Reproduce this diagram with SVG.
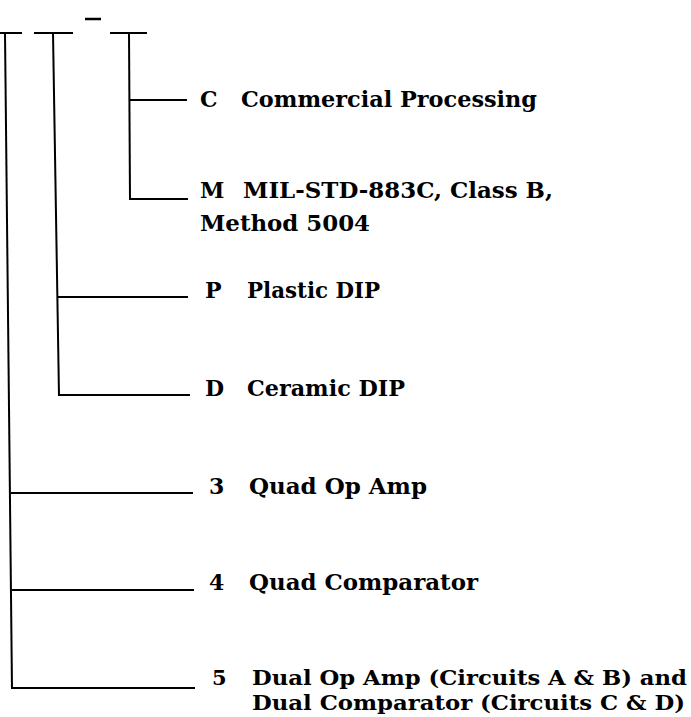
<svg xmlns="http://www.w3.org/2000/svg" width="691" height="717" viewBox="0 0 691 717">
<style>
  .ln { stroke: #000; stroke-width: 2; fill: none; stroke-linecap: butt; }
  .t { font-family: "DejaVu Serif", "Liberation Serif", serif; font-weight: bold; font-size: 22px; fill: #000; }
  .s { font-size: 21px; }
</style>
<rect width="691" height="717" fill="#fff"/>
<g id="connectors">
  <line class="ln" x1="0" y1="33" x2="22" y2="33"/>
  <line class="ln" x1="34" y1="33" x2="73" y2="33"/>
  <line class="ln" x1="85" y1="19" x2="101" y2="19" style="stroke-width:2.5"/>
  <line class="ln" x1="110" y1="33" x2="147" y2="33"/>
  <line class="ln" x1="5" y1="33" x2="12" y2="689"/>
  <line class="ln" x1="11" y1="493" x2="193" y2="493"/>
  <line class="ln" x1="12" y1="590" x2="194" y2="590"/>
  <line class="ln" x1="12" y1="688" x2="195" y2="688"/>
  <line class="ln" x1="53" y1="33" x2="59" y2="396"/>
  <line class="ln" x1="58" y1="297" x2="188" y2="297"/>
  <line class="ln" x1="59" y1="395" x2="190" y2="395"/>
  <line class="ln" x1="129" y1="33" x2="130" y2="200"/>
  <line class="ln" x1="129" y1="100" x2="187" y2="100"/>
  <line class="ln" x1="130" y1="199" x2="188" y2="199"/>
</g>
<g id="node-C">
  <text class="t" x="200" y="107">C</text>
  <text class="t" x="241" y="107" textLength="296" lengthAdjust="spacingAndGlyphs">Commercial Processing</text>
</g>
<g id="node-M">
  <text class="t" x="200" y="198">M</text>
  <text class="t" x="243" y="198" textLength="310" lengthAdjust="spacingAndGlyphs">MIL-STD-883C, Class B,</text>
  <text class="t" x="200" y="231" textLength="170" lengthAdjust="spacingAndGlyphs">Method 5004</text>
</g>
<g id="node-P">
  <text class="t" x="205" y="298">P</text>
  <text class="t" x="247" y="298" textLength="133" lengthAdjust="spacingAndGlyphs">Plastic DIP</text>
</g>
<g id="node-D">
  <text class="t" x="205" y="396">D</text>
  <text class="t" x="247" y="396" textLength="158" lengthAdjust="spacingAndGlyphs">Ceramic DIP</text>
</g>
<g id="node-3">
  <text class="t" x="209" y="494">3</text>
  <text class="t" x="249" y="494" textLength="178" lengthAdjust="spacingAndGlyphs">Quad Op Amp</text>
</g>
<g id="node-4">
  <text class="t" x="209" y="590">4</text>
  <text class="t" x="249" y="590" textLength="229" lengthAdjust="spacingAndGlyphs">Quad Comparator</text>
</g>
<g id="node-5">
  <text class="t s" x="212" y="685">5</text>
  <text class="t s" x="252" y="685" textLength="435" lengthAdjust="spacingAndGlyphs">Dual Op Amp (Circuits A &amp; B) and</text>
  <text class="t s" x="252" y="710" textLength="433" lengthAdjust="spacingAndGlyphs">Dual Comparator (Circuits C &amp; D)</text>
</g>
</svg>
